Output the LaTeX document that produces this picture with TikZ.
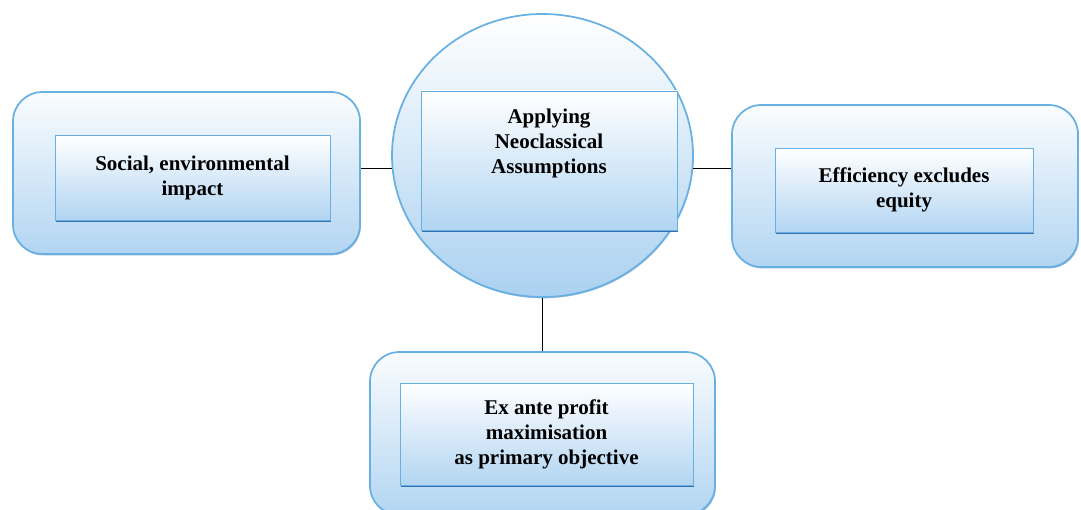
\documentclass[tikz,border=0pt]{standalone}
\usepackage{fontspec}
\setmainfont{Liberation Serif}
\usetikzlibrary{shapes.geometric}
\usetikzlibrary{shadows}
\definecolor{edge-blue}{RGB}{104,176,226}
\definecolor{fill-blue}{RGB}{178,213,242}
\definecolor{shadow-blue}{RGB}{40,100,170}
\newcommand{\labelfont}{\fontsize{15.75}{18.75}\selectfont\bfseries}
\tikzstyle{outerbox}=[draw=edge-blue,line width=1.3pt,rounded corners=22pt,top color=white!94!fill-blue,bottom color=fill-blue,drop shadow={shadow xshift=0.6pt,shadow yshift=-1pt,fill=shadow-blue,opacity=0.5},inner sep=0pt]
\tikzstyle{innerbox}=[draw=edge-blue,line width=0.7pt,top color=white,bottom color=fill-blue,drop shadow={shadow xshift=1pt,shadow yshift=-1.6pt,fill=shadow-blue,opacity=0.9},align=center,font=\labelfont,inner sep=0pt]
\tikzstyle{hubshape}=[ellipse,draw=edge-blue,line width=1.3pt,top color=white,bottom color=fill-blue!90!edge-blue,drop shadow={shadow xshift=0.4pt,shadow yshift=-1pt,fill=shadow-blue,opacity=0.4},inner sep=0pt,minimum width=225.75pt,minimum height=212.25pt]
\tikzstyle{connector}=[black,line width=1.1pt]

\begin{document}
\begin{tikzpicture}[x=0.75pt,y=-0.75pt]
	\useasboundingbox (0,0) rectangle (1081,510);
	% centre circle with its box
	\node[hubshape] (hub) at (542.5,155.5) {};
	\node[innerbox,minimum width=192pt,minimum height=104.25pt] (hub box) at (549,160.5) {};
	\node[align=center,font=\labelfont] (hub text) at (549,143) {Applying\\Neoclassical\\Assumptions};
	% the three outer boxes
	\node[outerbox,minimum width=260.25pt,minimum height=121.5pt] (social) at (186.5,173) {};
	\node[innerbox,minimum width=206.25pt,minimum height=63.75pt] (social box) at (192.5,177.5) {Social, environmental\\impact};
	\node[outerbox,minimum width=259.5pt,minimum height=121.5pt] (equity) at (905,186) {};
	\node[innerbox,minimum width=193.5pt,minimum height=63pt] (equity box) at (904,190) {Efficiency excludes\\equity};
	\node[outerbox,minimum width=258.75pt,minimum height=122.25pt] (profit) at (542.5,433.5) {};
	\node[innerbox,minimum width=219.75pt,minimum height=76.5pt] (profit box) at (546.5,434) {Ex ante profit\\maximisation\\as primary objective};
	% connectors
	\draw[connector] (hub.185) -- (hub.185 -| social.east);
	\draw[connector] (hub.-5) -- (hub.-5 -| equity.west);
	\draw[connector] (hub.south) -- (profit.north);
\end{tikzpicture}
\end{document}
